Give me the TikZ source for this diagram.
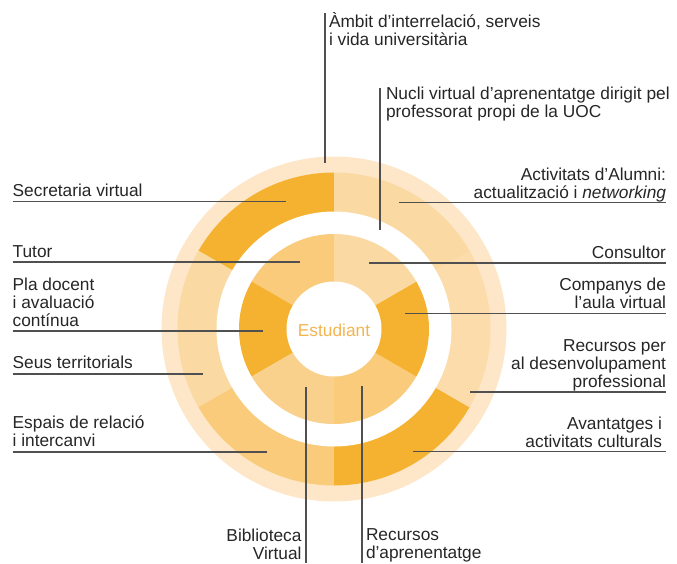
\documentclass[tikz,border=0pt]{standalone}
\usepackage{fontspec}
\setmainfont{Liberation Sans}
\definecolor{dk}{HTML}{F5B230}
\definecolor{md}{HTML}{F9CB7B}
\definecolor{mdl}{HTML}{F9D08C}
\definecolor{lt}{HTML}{FBD9A2}
\definecolor{ltr}{HTML}{FBDCAA}
\definecolor{pale}{HTML}{FDE7C8}
\definecolor{txt}{HTML}{262626}
\definecolor{ln}{HTML}{505050}
\definecolor{stud}{HTML}{F3B552}
\newcommand\LftBox[1]{\vtop{\baselineskip=18pt\lineskiplimit=-20pt\lineskip=0pt\halign{##\hfil\cr#1\crcr}}}
\newcommand\RgtBox[1]{\vtop{\baselineskip=18pt\lineskiplimit=-20pt\lineskip=0pt\halign{\hfil##\cr#1\crcr}}}
\tikzset{
  lbl/.style={inner sep=0pt, outer sep=0pt, text=txt, font=\fontsize{17.3}{18}\selectfont},
  leader/.style={draw=ln, line width=1.3pt},
}
\begin{document}
\begin{tikzpicture}[x=1pt, y=-1pt]
\useasboundingbox (0,0) rectangle (677,563);
\coordinate (C) at (334,329);
% outermost pale ring
\fill[pale] (C) circle[radius=172.5];
% outer ring sectors (visual angle phi -> theta=-phi)
\fill[dk]  (C) -- ++(-90:156.5)  arc[start angle=-90,  end angle=-150, radius=156.5] -- cycle;
\fill[lt]  (C) -- ++(-150:156.5) arc[start angle=-150, end angle=-210, radius=156.5] -- cycle;
\fill[md]  (C) -- ++(-210:156.5) arc[start angle=-210, end angle=-270, radius=156.5] -- cycle;
\fill[dk]  (C) -- ++(-270:156.5) arc[start angle=-270, end angle=-330, radius=156.5] -- cycle;
\fill[ltr] (C) -- ++(30:156.5)   arc[start angle=30,   end angle=-30,  radius=156.5] -- cycle;
\fill[lt]  (C) -- ++(-30:156.5)  arc[start angle=-30,  end angle=-90,  radius=156.5] -- cycle;
% white gap
\fill[white] (C) circle[radius=117.5];
% inner ring sectors
\fill[md]  (C) -- ++(-90:95)  arc[start angle=-90,  end angle=-150, radius=95] -- cycle;
\fill[dk]  (C) -- ++(-150:95) arc[start angle=-150, end angle=-210, radius=95] -- cycle;
\fill[mdl] (C) -- ++(-210:95) arc[start angle=-210, end angle=-270, radius=95] -- cycle;
\fill[md]  (C) -- ++(-270:95) arc[start angle=-270, end angle=-330, radius=95] -- cycle;
\fill[dk]  (C) -- ++(30:95)   arc[start angle=30,   end angle=-30,  radius=95] -- cycle;
\fill[lt]  (C) -- ++(-30:95)  arc[start angle=-30,  end angle=-90,  radius=95] -- cycle;
% centre
\fill[white] (C) circle[radius=47.5];
\node[lbl, text=stud, anchor=base] (estudiant) at (334,336) {Estudiant};

% labels
\node[lbl, anchor=base west] (ambit) at (329,27) {\LftBox{Àmbit d’interrelació, serveis\cr i vida universitària}};
\coordinate (ambitA) at (325,13); \coordinate (ambitB) at (325,163);
\draw[leader] (ambitA) -- (ambitB);

\node[lbl, anchor=base west] (nucli) at (386,99.5) {\LftBox{Nucli virtual d’aprenentatge dirigit pel\cr professorat propi de la UOC}};
\coordinate (nucliA) at (380,88); \coordinate (nucliB) at (380,230);
\draw[leader] (nucliA) -- (nucliB);

\node[lbl, anchor=base west] (secr) at (12.7,196) {\LftBox{Secretaria virtual}};
\coordinate (secrA) at (12.7,201.5); \coordinate (secrB) at (286,201.5);
\draw[leader] (secrA) -- (secrB);

\node[lbl, anchor=base east] (alumni) at (666,180) {\RgtBox{Activitats d’Alumni:\cr actualització i \textit{networking}}};
\coordinate (alumniA) at (399,202.5); \coordinate (alumniB) at (666,202.5);
\draw[leader] (alumniA) -- (alumniB);

\node[lbl, anchor=base west] (tutor) at (12.7,257.5) {\LftBox{Tutor}};
\coordinate (tutorA) at (12.7,262); \coordinate (tutorB) at (300,262);
\draw[leader] (tutorA) -- (tutorB);

\node[lbl, anchor=base east] (consultor) at (666,258) {\RgtBox{Consultor}};
\coordinate (consA) at (369,263); \coordinate (consB) at (666,263);
\draw[leader] (consA) -- (consB);

\node[lbl, anchor=base west] (pla) at (12.7,290.5) {\LftBox{Pla docent\cr i avaluació\cr contínua}};
\coordinate (plaA) at (12.7,331); \coordinate (plaB) at (263,331);
\draw[leader] (plaA) -- (plaB);

\node[lbl, anchor=base east] (companys) at (666,290) {\RgtBox{Companys de\cr l’aula virtual}};
\coordinate (compA) at (405,313.5); \coordinate (compB) at (666,313.5);
\draw[leader] (compA) -- (compB);

\node[lbl, anchor=base west] (seus) at (12.7,368.5) {\LftBox{Seus territorials}};
\coordinate (seusA) at (12.7,374); \coordinate (seusB) at (203,374);
\draw[leader] (seusA) -- (seusB);

\node[lbl, anchor=base east] (desenv) at (666,351.5) {\RgtBox{Recursos per\cr al desenvolupament\cr professional}};
\coordinate (desA) at (470,392); \coordinate (desB) at (666,392);
\draw[leader] (desA) -- (desB);

\node[lbl, anchor=base west] (espais) at (12.7,428.5) {\LftBox{Espais de relació\cr i intercanvi}};
\coordinate (espA) at (12.7,452); \coordinate (espB) at (267,452);
\draw[leader] (espA) -- (espB);

\node[lbl, anchor=base east] (avant) at (662,429) {\RgtBox{Avantatges i\cr activitats culturals}};
\coordinate (avA) at (413,451.5); \coordinate (avB) at (666,451.5);
\draw[leader] (avA) -- (avB);

\node[lbl, anchor=base east] (biblio) at (301.5,541) {\RgtBox{Biblioteca\cr Virtual}};
\coordinate (bibA) at (306,387); \coordinate (bibB) at (306,563);
\draw[leader] (bibA) -- (bibB);

\node[lbl, anchor=base west] (recapr) at (366,540) {\LftBox{Recursos\cr d’aprenentatge}};
\coordinate (recA) at (362,386); \coordinate (recB) at (362,563);
\draw[leader] (recA) -- (recB);
\end{tikzpicture}
\end{document}
